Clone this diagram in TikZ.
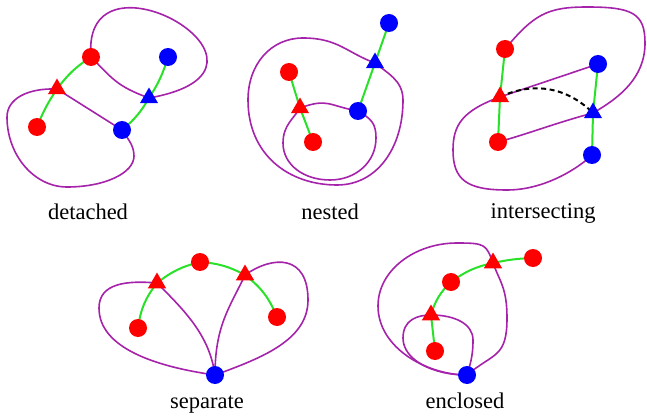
\documentclass[tikz,border=0pt]{standalone}
\usepackage{fontspec}
\setmainfont{Liberation Serif}
\usepackage{tikz}
\usetikzlibrary{shapes.geometric, backgrounds}
\definecolor{ringc}{RGB}{165,35,170}
\definecolor{stemc}{RGB}{40,225,40}

\begin{document}
\begin{tikzpicture}[x=1pt, y=1pt]
        % Styles
        \tikzstyle{rdot} = [circle, fill=red, inner sep=0pt, minimum size=18pt]
        \tikzstyle{bdot} = [rdot, fill=blue]
        \tikzstyle{rtri} = [regular polygon, regular polygon sides=3, fill=red, inner sep=0pt, minimum size=21pt]
        \tikzstyle{btri} = [rtri, fill=blue]
        \tikzstyle{ring} = [draw=ringc, line width=1.6pt]
        \tikzstyle{stem} = [draw=stemc, line width=2pt]
        \tikzstyle{hop} = [draw=black, line width=2pt, dash pattern=on 5pt off 3.5pt]
        \tikzstyle{caption} = [anchor=base, font=\fontsize{22.5}{27}\selectfont]

        \useasboundingbox (0,0) rectangle (647,418);

        % Nodes: detached
        \node [rdot] (dA) at (91,361) {};
        \node [rtri] (dB) at (57,329) {};
        \node [rdot] (dC) at (37,291) {};
        \node [bdot] (dD) at (168,361) {};
        \node [btri] (dE) at (149,320) {};
        \node [bdot] (dF) at (122,288) {};
        \node [caption] (capd) at (88,199) {detached};

        % Nodes: nested
        \node [bdot] (nA) at (389,395) {};
        \node [btri] (nB) at (375,355) {};
        \node [bdot] (nC) at (358,307) {};
        \node [rdot] (nD) at (289,346) {};
        \node [rtri] (nE) at (300,310) {};
        \node [rdot] (nF) at (313,276) {};
        \node [caption] (capn) at (330,199) {nested};

        % Nodes: intersecting
        \node [rdot] (iA) at (505,369) {};
        \node [rtri] (iB) at (500,321) {};
        \node [rdot] (iC) at (498,276) {};
        \node [bdot] (iD) at (598,354) {};
        \node [btri] (iE) at (593,305) {};
        \node [bdot] (iF) at (592,263) {};
        \node [caption] (capi) at (543,200) {intersecting};

        % Nodes: separate
        \node [rdot] (sA) at (200,156) {};
        \node [rtri] (sB) at (157,135) {};
        \node [rtri] (sC) at (245,143) {};
        \node [rdot] (sD) at (138,90) {};
        \node [rdot] (sE) at (277,101) {};
        \node [bdot] (sF) at (215,43) {};
        \node [caption] (caps) at (207,10) {separate};

        % Nodes: enclosed
        \node [rdot] (eA) at (533,160) {};
        \node [rtri] (eB) at (493,155) {};
        \node [rdot] (eC) at (451,136) {};
        \node [rtri] (eD) at (431,103) {};
        \node [rdot] (eE) at (435,67) {};
        \node [bdot] (eF) at (467,43) {};
        \node [caption] (cape) at (465,10) {enclosed};

        % Paths
        \begin{pgfonlayer}{background}
        % detached
        \path [ring] (dA.center) .. controls +(95:120) and +(10:165) .. (dE.center)
            .. controls +(160:35) and +(-45:30) .. (dA.center);
        \path [ring] (dB.center) .. controls +(178:30) and +(90:18) .. (7,301)
            .. controls +(-90:38) and +(180:33) .. (67,231)
            .. controls +(0:38) and +(-90:17) .. (134,262)
            .. controls +(90:12) and +(-60:8) .. (dF.center) -- (dB.center);
        \path [stem] (dA.center) to[bend right=10] (dB.center) to[bend right=6] (dC.center);
        \path [stem] (dD.center) to[bend left=8] (dE.center) to[bend left=10] (dF.center);

        % nested
        \path [ring] (nB.center) .. controls +(160:30) and +(0:35) .. (303,380)
            .. controls +(180:32) and +(90:36) .. (248,318)
            .. controls +(-90:55) and +(180:48) .. (337,233)
            .. controls +(0:40) and +(-90:48) .. (403,318)
            .. controls +(90:20) and +(-40:15) .. (nB.center);
        \path [ring] (nE.center) .. controls +(20:30) and +(170:30) .. (nC.center)
            .. controls +(-30:16) and +(90:14) .. (376,280)
            .. controls +(-90:24) and +(0:26) .. (330,238)
            .. controls +(180:26) and +(-90:22) .. (283,275)
            .. controls +(90:18) and +(-120:12) .. (nE.center);
        \path [stem] (nA.center) -- (nB.center) -- (nC.center);
        \path [stem] (nD.center) -- (nE.center) -- (nF.center);

        % intersecting
        \path [ring] (iA.center) .. controls +(50:45) and +(180:40) .. (587,411)
            .. controls +(0:45) and +(90:30) .. (645,375)
            .. controls +(-90:35) and +(30:30) .. (iE.center)
            .. controls +(195:40) and +(15:30) .. (iC.center);
        \path [ring] (iD.center) -- (iB.center)
            .. controls +(200:40) and +(90:25) .. (453,268)
            .. controls +(-90:30) and +(180:40) .. (507,228)
            .. controls +(0:40) and +(-135:15) .. (iF.center);
        \path [stem] (iA.center) -- (iB.center) -- (iC.center);
        \path [stem] (iD.center) -- (iE.center) -- (iF.center);
        \path [hop] (iB.center) to[bend left=35] (iE.center);

        % separate
        \path [ring] (sF.center) .. controls +(172:60) and +(-90:40) .. (99,110)
            .. controls +(90:25) and +(175:30) .. (sB.center)
            .. controls +(-45:40) and +(98:40) .. (sF.center);
        \path [ring] (sF.center) .. controls +(90:50) and +(-115:35) .. (sC.center)
            .. controls +(35:35) and +(90:45) .. (308,118)
            .. controls +(-90:40) and +(20:50) .. (sF.center);
        \path [stem] (sD.center) to[bend left=15] (sB.center) to[bend left=12] (sA.center)
            to[bend left=12] (sC.center) to[bend left=15] (sE.center);

        % enclosed
        \path [ring] (eF.center) .. controls +(40:35) and +(-90:40) .. (507,100)
            .. controls +(90:30) and +(-70:20) .. (eB.center)
            .. controls +(110:20) and +(0:28) .. (457,175)
            .. controls +(180:42) and +(90:36) .. (378,112)
            .. controls +(-90:42) and +(180:40) .. (eF.center);
        \path [ring] (eD.center) .. controls +(0:24) and +(90:16) .. (473,78)
            .. controls +(-90:18) and +(75:10) .. (eF.center)
            .. controls +(180:34) and +(-90:22) .. (403,80)
            .. controls +(90:18) and +(180:14) .. (eD.center);
        \path [stem] (eE.center) -- (eD.center) to[bend left=15] (eC.center)
            to[bend left=12] (eB.center) to[bend left=5] (eA.center);
        \end{pgfonlayer}
\end{tikzpicture}
\end{document}
